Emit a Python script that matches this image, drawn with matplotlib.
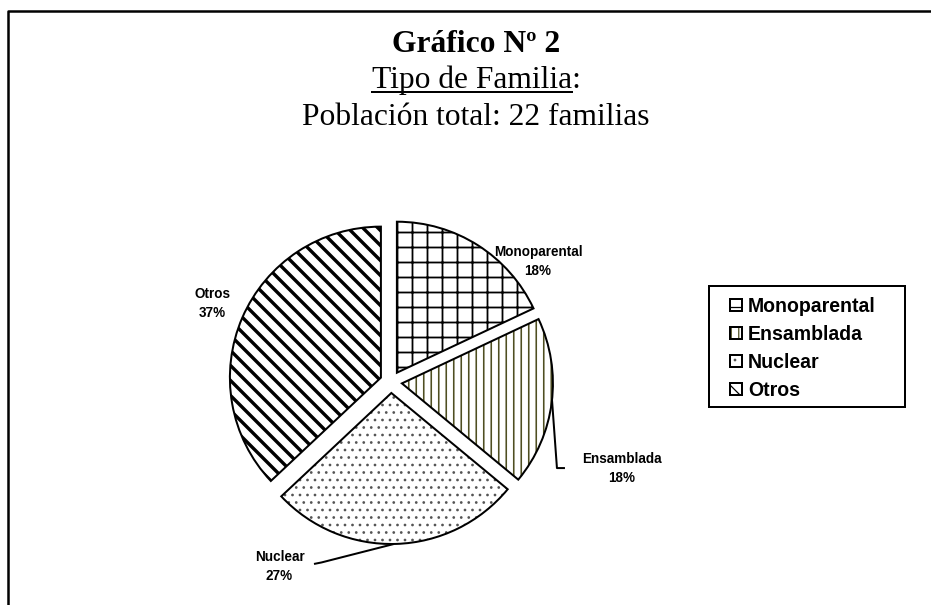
import matplotlib
matplotlib.use("Agg")
import matplotlib.pyplot as plt
import numpy as np
from matplotlib.lines import Line2D
from matplotlib.patches import Rectangle
from matplotlib.legend_handler import HandlerTuple

# data
categories = ['Monoparental', 'Ensamblada', 'Nuclear', 'Otros']
percentages = [18, 18, 27, 37]

# styling
DPI = 90
PX = 72 / DPI  # points per pixel
hatches = ['+', '||', '..', '\\\\']
hatch_colors = ['black', '#4f4f22', '#555555', 'black']
hatch_widths = [1.8, 1.6, 1.2, 3.4]  # pixels
label_xy = [(0.974, 0.795), (1.530, -0.570), (-0.738, -1.219), (-1.182, 0.517)]

W, H = 931, 605
fig = plt.figure(figsize=(W / DPI, H / DPI), dpi=DPI)

# pie axes: centre at (391, 382) px, radius 151 px
half = 200
ax = fig.add_axes([(391 - half) / W, (H - 382 - half) / H, 2 * half / W, 2 * half / H])
explode = [11 / 151] * len(percentages)

fills, _ = ax.pie(percentages, startangle=90, counterclock=False, explode=explode,
                  wedgeprops=dict(facecolor='white', linewidth=0))
for w, h, c, lw in zip(fills, hatches, hatch_colors, hatch_widths):
    w.set_hatch(h)
    w.set_edgecolor(c)
    if hasattr(w, 'set_hatch_linewidth'):
        w.set_hatch_linewidth(lw * PX)
outlines, _ = ax.pie(percentages, startangle=90, counterclock=False, explode=explode,
                     wedgeprops=dict(fill=False, edgecolor='black', linewidth=2 * PX))

lim = half / 151
ax.set_xlim(-lim, lim)
ax.set_ylim(-lim, lim)
ax.set_aspect('equal')
ax.axis('off')

for cat, pct, (x, y) in zip(categories, percentages, label_xy):
    ax.text(x, y, f'{cat}\n{pct}%', ha='center', va='center', fontsize=13.5 * PX,
            fontweight='bold', family='Liberation Sans', linespacing=1.45)

# leader lines
def arc_point(w, deg):
    cx, cy = w.center
    return cx + w.r * np.cos(np.radians(deg)), cy + w.r * np.sin(np.radians(deg))

p = arc_point(outlines[1], -6.3)
ax.plot([p[0], 1.099, 1.152], [p[1], -0.570, -0.570], color='black', lw=2 * PX,
        solid_capstyle='butt')
p = arc_point(outlines[2], -89)
ax.plot([p[0], -0.46, -0.51], [p[1], -1.195, -1.205], color='black', lw=2 * PX,
        solid_capstyle='butt')

# legend (frame drawn separately)
leg_fs = 19.5
leg = fig.legend(handles=[(f, o) for f, o in zip(fills, outlines)], labels=categories,
                 handler_map={tuple: HandlerTuple(ndivide=1)},
                 loc='upper left', bbox_to_anchor=(730 / W, 1 - 297 / H),
                 prop=dict(family='Liberation Sans', weight='bold', size=leg_fs * PX),
                 handlelength=12 / leg_fs, handleheight=12 / leg_fs,
                 handletextpad=6 / leg_fs, labelspacing=0.46, borderpad=0,
                 borderaxespad=0, frameon=False)
fig.add_artist(Rectangle((709 / W, 1 - 407 / H), 196 / W, 121 / H,
                         transform=fig.transFigure, fill=False,
                         edgecolor='black', lw=2 * PX))

# titles
cx = 476 / W
tfs = 31.5 * PX
fig.text(cx, 1 - 52 / H, 'Gráfico Nº 2', ha='center', va='baseline',
         family='Liberation Serif', fontweight='bold', fontsize=tfs)
t2 = fig.text(cx, 1 - 88 / H, 'Tipo de Familia:', ha='center', va='baseline',
              family='Liberation Serif', fontsize=tfs)
fig.text(cx, 1 - 125 / H, 'Población total: 22 familias', ha='center', va='baseline',
         family='Liberation Serif', fontsize=tfs)

renderer = fig.canvas.get_renderer()
bb = t2.get_window_extent(renderer)
tmp = fig.text(0, 0, 'Tipo de Familia', family='Liberation Serif', fontsize=tfs)
uw = tmp.get_window_extent(renderer).width
tmp.remove()
fig.add_artist(Line2D([bb.x0 / W, (bb.x0 + uw) / W], [1 - 92 / H, 1 - 92 / H],
                      transform=fig.transFigure, color='black', lw=2 * PX))

# outer frame (top and left edges)
fig.add_artist(Line2D([8 / W, 8 / W, 1], [0, 1 - 11 / H, 1 - 11 / H],
                      transform=fig.transFigure, color='black', lw=2.5 * PX))

fig.savefig('out.png', dpi=DPI)
